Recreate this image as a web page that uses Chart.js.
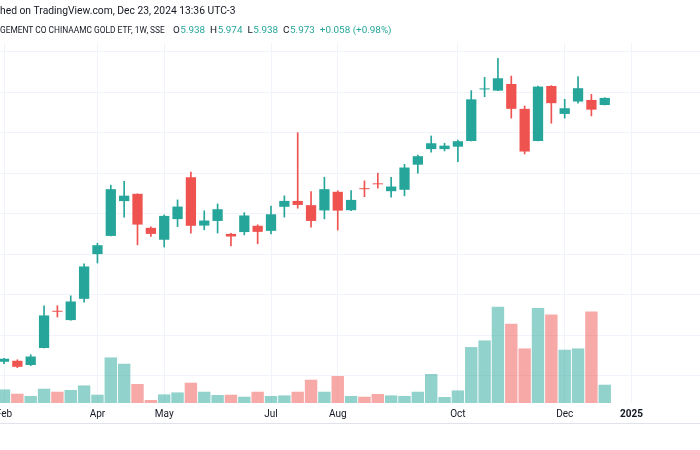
<!DOCTYPE html>
<html>
<head>
<meta charset="utf-8">
<script src="https://cdn.jsdelivr.net/npm/chart.js@4.4.1/dist/chart.umd.min.js"></script>
<style>
  html, body { margin: 0; padding: 0; background: #ffffff; }
  #wrap { position: relative; width: 700px; height: 450px; overflow: hidden; }
  canvas { display: block; }
</style>
</head>
<body>
<div id="wrap"><canvas id="c" width="700" height="450"></canvas></div>
<script>
// Weekly bars (week start dates)
const weeks = ["2024-02-05","2024-02-19","2024-02-26","2024-03-04","2024-03-11","2024-03-18","2024-03-25",
  "2024-04-01","2024-04-08","2024-04-15","2024-04-22","2024-04-29","2024-05-06","2024-05-13","2024-05-20",
  "2024-05-27","2024-06-03","2024-06-10","2024-06-17","2024-06-24","2024-07-01","2024-07-08","2024-07-15",
  "2024-07-22","2024-07-29","2024-08-05","2024-08-12","2024-08-19","2024-08-26","2024-09-02","2024-09-09",
  "2024-09-16","2024-09-23","2024-09-30","2024-10-07","2024-10-14","2024-10-21","2024-10-28","2024-11-04",
  "2024-11-11","2024-11-18","2024-11-25","2024-12-02","2024-12-09","2024-12-16","2024-12-23"];

const opens  = [4.669,4.674,4.653,4.737,4.918,4.875,4.980,5.201,5.291,5.463,5.499,5.331,5.272,5.374,5.581,
  5.342,5.365,5.301,5.310,5.341,5.316,5.435,5.464,5.443,5.417,5.509,5.418,5.525,5.548,5.512,5.519,
  5.643,5.720,5.720,5.732,5.760,6.015,6.009,6.042,5.919,5.760,6.032,5.894,5.955,5.963,5.938];
const highs  = [4.686,4.679,4.704,4.946,4.946,4.995,5.153,5.255,5.542,5.561,5.499,5.336,5.395,5.469,5.606,
  5.415,5.449,5.304,5.406,5.346,5.439,5.489,5.801,5.510,5.581,5.514,5.515,5.563,5.601,5.581,5.645,
  5.691,5.785,5.749,5.765,6.009,6.075,6.169,6.081,5.933,6.032,6.034,5.966,6.078,5.991,5.974];
const lows   = [4.659,4.640,4.650,4.737,4.890,4.874,4.964,5.157,5.291,5.384,5.247,5.288,5.236,5.337,5.305,
  5.321,5.305,5.242,5.296,5.252,5.301,5.384,5.428,5.334,5.375,5.320,5.416,5.485,5.527,5.482,5.489,
  5.601,5.705,5.711,5.658,5.760,5.979,6.009,5.873,5.696,5.760,5.848,5.873,5.947,5.884,5.938];
const closes = [4.684,4.644,4.695,4.898,4.916,4.967,5.140,5.245,5.522,5.490,5.347,5.301,5.390,5.436,5.341,
  5.367,5.423,5.288,5.392,5.311,5.398,5.464,5.444,5.365,5.522,5.416,5.469,5.522,5.546,5.535,5.629,
  5.685,5.749,5.737,5.759,5.966,6.017,6.070,5.919,5.708,6.029,5.947,5.922,6.021,5.915,5.973];
// Volume (relative units)
const volumes = [13.6,9.3,7.0,14.3,11.3,13.0,17.6,8.3,45.6,39.3,19.0,3.0,8.6,10.6,20.3,11.3,8.0,8.3,6.3,
  11.3,7.0,7.6,11.3,23.3,11.3,27.0,7.0,6.3,9.0,7.6,7.0,11.3,29.0,6.0,12.6,56.0,62.6,96.3,79.3,54.6,
  95.0,88.6,53.3,54.6,91.6,18.3];

// Time-axis tick labels (bar index -> text); 47 = week of 2025-01-06
const tickIdx  = [0, 7, 12, 20, 25, 34, 42, 47];
const tickText = ["Feb","Apr","May","Jul","Aug","Oct","Dec","2025"];
const priceTicks = [4.6,4.8,5.0,5.2,5.4,5.6,5.8,6.0,6.2];

const UP = '#26a69a', DOWN = '#ef5350';
const UPV = 'rgba(38,166,154,0.5)', DOWNV = 'rgba(239,83,80,0.5)';
const isUp = closes.map((c,i) => c >= opens[i]);

const FONT = 'Roboto, "Noto Sans", sans-serif';

const headerPlugin = {
  id: 'header',
  afterDraw(chart) {
    const ctx = chart.ctx;
    ctx.save();
    ctx.strokeStyle = '#e0e3eb';
    ctx.lineWidth = 1;
    ctx.beginPath(); ctx.moveTo(0, 423.5); ctx.lineTo(700, 423.5); ctx.stroke();

    ctx.textBaseline = 'middle';
    ctx.fillStyle = '#131722';
    ctx.font = '10.3px ' + FONT;
    const l1 = 'Published on TradingView.com, Dec 23, 2024 13:36 UTC-3';
    ctx.fillText(l1, -ctx.measureText('Publis').width, 11);

    // fit the symbol name so that its visible part ends near x=165
    const l2 = 'CHINA ASSET MANAGEMENT CO CHINAAMC GOLD ETF, 1W, SSE';
    const hidden = 'CHINA ASSET MANA';
    ctx.font = '10px ' + FONT;
    const vis10 = ctx.measureText(l2).width - ctx.measureText(hidden).width;
    const fs = 10 * 165 / vis10;
    ctx.font = fs.toFixed(2) + 'px ' + FONT;
    ctx.fillText(l2, -ctx.measureText(hidden).width, 31);

    ctx.font = '9.9px ' + FONT;
    let x = 173;
    const parts = [['O','5.938'],['H','5.974'],['L','5.938'],['C','5.973']];
    for (const [k,v] of parts) {
      ctx.fillStyle = '#131722'; ctx.fillText(k, x, 31); x += ctx.measureText(k).width + 0.5;
      ctx.fillStyle = UP; ctx.fillText(v, x, 31); x += ctx.measureText(v).width + 5;
    }
    ctx.fillStyle = UP;
    ctx.fillText('+0.058 (+0.98%)', x, 31);
    ctx.restore();
  }
};

const idx = weeks.map((_, i) => i);
const pxPerBar = 13.35;
const xMin = -4 / pxPerBar;
const xMax = xMin + 700 / pxPerBar;

const noPad = s => { s.paddingLeft = 0; s.paddingRight = 0; s.paddingTop = 0; s.paddingBottom = 0; };

new Chart(document.getElementById('c'), {
  type: 'bar',
  data: {
    datasets: [
      {
        label: 'bodies',
        data: idx.map(i => ({ x: i, y: [opens[i], closes[i]] })),
        backgroundColor: isUp.map(u => u ? UP : DOWN),
        barPercentage: 0.77, categoryPercentage: 1,
        minBarLength: 1, borderWidth: 0, borderSkipped: false,
        grouped: false, order: 1, yAxisID: 'y'
      },
      {
        label: 'wicks',
        data: idx.map(i => ({ x: i, y: [lows[i], highs[i]] })),
        backgroundColor: isUp.map(u => u ? UP : DOWN),
        barThickness: 1, borderWidth: 0, borderSkipped: false,
        grouped: false, order: 2, yAxisID: 'y'
      },
      {
        label: 'volume',
        data: idx.map(i => ({ x: i, y: volumes[i] })),
        backgroundColor: isUp.map(u => u ? UPV : DOWNV),
        barPercentage: 0.93, categoryPercentage: 1,
        borderWidth: 0, grouped: false, order: 3, yAxisID: 'yv'
      }
    ]
  },
  options: {
    responsive: false,
    animation: false,
    devicePixelRatio: 1,
    layout: { padding: { top: 43, left: 0, right: 0, bottom: 0 }, autoPadding: false },
    plugins: { legend: { display: false }, tooltip: { enabled: false } },
    scales: {
      x: {
        type: 'linear', min: xMin, max: xMax, offset: false,
        afterBuildTicks: s => { s.ticks = tickIdx.map(v => ({ value: v })); },
        afterFit: s => { s.height = 47; noPad(s); },
        grid: { color: '#f0f3fa', drawTicks: false, offset: false },
        border: { display: false },
        ticks: {
          autoSkip: false, maxRotation: 0, padding: 5, color: '#131722',
          font: c => ({ family: FONT, size: 10, weight: (c.tick && c.tick.value === 47) ? 'bold' : 'normal' }),
          callback: v => { const k = tickIdx.indexOf(v); return k >= 0 ? tickText[k] : ''; }
        }
      },
      y: {
        type: 'linear', position: 'right',
        min: 6.0 - (403.3 - 92.5) / 202.5, max: 6.0 + (92.5 - 43) / 202.5,
        afterBuildTicks: s => { s.ticks = priceTicks.map(v => ({ value: v })); },
        afterFit: s => { s.width = 0; noPad(s); },
        grid: { color: '#f0f3fa', drawTicks: false },
        border: { display: false },
        ticks: { display: false }
      },
      yv: {
        type: 'linear', display: false, min: 0, max: 360.3,
        afterFit: s => { s.width = 0; noPad(s); }
      }
    }
  },
  plugins: [headerPlugin]
});
</script>
</body>
</html>
